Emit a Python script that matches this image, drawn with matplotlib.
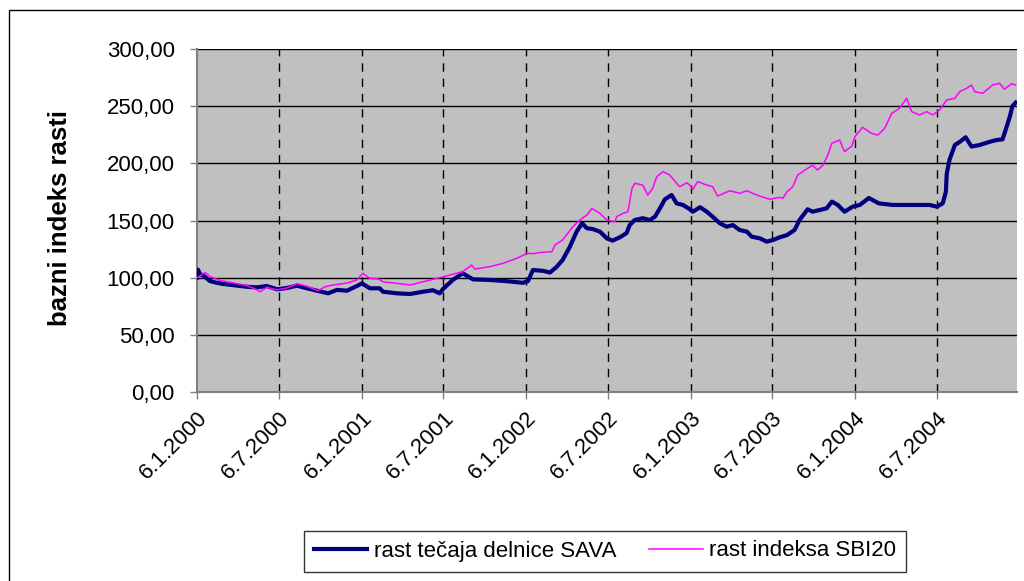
import datetime as dt
import matplotlib
matplotlib.use("Agg")
import matplotlib.pyplot as plt
from matplotlib.patches import Rectangle
from matplotlib.ticker import FuncFormatter, MultipleLocator

plt.rcParams["font.family"] = ["Liberation Sans", "DejaVu Sans"]

# Base date of the index (index = 100 on this day)
base_date = dt.date(2000, 1, 6)

# SAVA share price growth index: days after base date, index value
sava_days = [0, 2, 7, 16, 29, 44, 58, 80, 111, 133, 155, 178, 200, 222, 244, 266,
             284, 291, 311, 333, 355, 366, 384, 406, 413, 444, 473, 502, 524, 539,
             546, 568, 590, 613, 650, 688, 724, 735, 746, 768, 784, 799, 812, 828,
             843, 855, 866, 879, 895, 910, 923, 939, 954, 961, 972, 990, 1006, 1017,
             1028, 1039, 1054, 1065, 1079, 1094, 1101, 1117, 1132, 1145, 1161, 1176,
             1190, 1205, 1221, 1232, 1250, 1265, 1279, 1294, 1310, 1327, 1338, 1356,
             1367, 1383, 1398, 1410, 1423, 1438, 1456, 1472, 1492, 1514, 1545, 1583,
             1627, 1643, 1656, 1663, 1665, 1671, 1683, 1694, 1707, 1720, 1738, 1760,
             1776, 1789, 1798, 1805, 1811, 1818]
sava_values = [100.0, 107.0, 103.0, 101.3, 97.0, 95.5, 94.5, 93.5, 92.0, 91.5, 92.7,
               89.8, 91.0, 93.0, 90.7, 88.6, 87.0, 86.3, 89.3, 88.6, 92.7, 95.0, 90.7,
               90.7, 87.7, 86.3, 85.7, 87.7, 89.0, 86.3, 90.0, 98.0, 103.8, 98.5, 98.0,
               96.9, 95.5, 97.0, 106.7, 106.0, 104.5, 109.6, 115.5, 127.0, 140.2, 147.6,
               143.2, 142.5, 140.2, 134.4, 132.4, 135.3, 139.0, 146.0, 150.4, 152.0,
               150.4, 153.4, 160.6, 168.5, 172.3, 165.0, 163.6, 160.0, 157.7, 161.6,
               157.7, 153.4, 147.6, 144.6, 146.0, 141.7, 140.3, 135.8, 134.4, 131.5,
               132.9, 135.3, 137.2, 141.7, 150.4, 159.8, 157.7, 159.2, 160.6, 166.5,
               163.6, 157.7, 162.1, 163.6, 169.7, 165.0, 163.6, 163.6, 163.6, 162.1,
               165.0, 175.0, 191.0, 203.0, 216.0, 218.8, 222.8, 214.7, 216.0, 218.8,
               220.4, 221.0, 232.0, 240.8, 250.2, 253.1]

# SBI20 index growth: days after base date, index value
sbi_days = [0, 7, 18, 29, 44, 58, 80, 111, 133, 140, 155, 178, 200, 222, 244, 269,
            284, 302, 333, 355, 368, 384, 402, 413, 444, 473, 502, 533, 562, 590,
            610, 617, 650, 679, 710, 733, 746, 761, 788, 795, 812, 835, 850, 866,
            877, 895, 910, 928, 932, 946, 957, 966, 972, 990, 1001, 1012, 1021, 1035,
            1050, 1065, 1072, 1088, 1094, 1101, 1112, 1132, 1145, 1156, 1183, 1205,
            1221, 1243, 1272, 1294, 1301, 1310, 1323, 1334, 1356, 1367, 1378, 1390,
            1401, 1410, 1427, 1438, 1454, 1461, 1478, 1498, 1512, 1527, 1543, 1560,
            1576, 1587, 1605, 1620, 1634, 1649, 1665, 1683, 1694, 1709, 1720, 1727,
            1745, 1767, 1782, 1793, 1809, 1818]
sbi_values = [100.0, 101.6, 104.4, 101.0, 98.5, 97.0, 95.5, 93.0, 89.5, 87.7, 91.6,
              89.3, 91.0, 94.7, 92.4, 88.6, 92.0, 93.6, 95.3, 98.0, 103.8, 99.4, 99.0,
              96.4, 95.0, 93.6, 96.4, 99.4, 102.3, 105.3, 111.0, 107.5, 109.6, 112.5,
              116.9, 121.3, 121.0, 122.0, 122.7, 128.6, 133.0, 144.6, 150.4, 154.8,
              160.6, 156.2, 150.4, 148.9, 153.4, 156.2, 157.7, 178.1, 182.5, 181.0,
              172.3, 178.1, 188.4, 192.7, 189.8, 182.5, 179.6, 183.0, 181.0, 177.2,
              184.0, 181.0, 179.6, 171.4, 176.0, 173.8, 176.0, 172.3, 168.5, 170.3,
              169.4, 175.0, 179.6, 189.8, 195.6, 198.3, 194.2, 198.3, 207.3, 217.6,
              220.4, 210.2, 215.0, 223.3, 231.5, 226.2, 224.7, 230.6, 243.7, 248.1,
              256.9, 245.2, 242.3, 245.2, 242.3, 246.6, 255.4, 256.9, 262.7, 265.6,
              268.5, 262.7, 261.3, 268.5, 270.0, 264.9, 269.6, 268.5]

tick_dates = ["6.1.2000", "6.7.2000", "6.1.2001", "6.7.2001", "6.1.2002",
              "6.7.2002", "6.1.2003", "6.7.2003", "6.1.2004", "6.7.2004"]

y_label = "bazni indeks rasti"
sava_label = "rast tečaja delnice SAVA"
sbi_label = "rast indeksa SBI20"


def to_dates(days):
    return [base_date + dt.timedelta(days=d) for d in days]


def parse(s):
    d, m, y = (int(p) for p in s.split("."))
    return dt.date(y, m, d)


W, H = 1024, 581
fig = plt.figure(figsize=(W / 100, H / 100), dpi=100)
fig.patch.set_facecolor("white")

# chart area frame
fig.patches.append(Rectangle((9 / W, -0.5), 2.0, 1 - 10 / H + 0.5,
                             transform=fig.transFigure, fill=False,
                             edgecolor="black", linewidth=1.0))

ax = fig.add_axes([197 / W, 1 - 392 / H, 820 / W, 343 / H])
ax.set_facecolor("#C0C0C0")

ticks = [parse(s) for s in tick_dates]
ax.set_xlim(base_date, dt.date(2004, 12, 31))
ax.set_ylim(0, 300)

# horizontal grid
ax.yaxis.set_major_locator(MultipleLocator(50))
ax.grid(axis="y", color="black", linewidth=1.0)
# dashed vertical lines at the half-year ticks
for t in ticks[1:]:
    ax.axvline(t, color="black", linewidth=1.0, linestyle=(0, (6, 5)), zorder=1)

ax.plot(to_dates(sava_days), sava_values, color="#000080", linewidth=3.0,
        label=sava_label, zorder=3, solid_joinstyle="round")
ax.plot(to_dates(sbi_days), sbi_values, color="#FF00FF", linewidth=1.1,
        label=sbi_label, zorder=3)

ax.set_xticks(ticks)
ax.set_xticklabels(tick_dates, rotation=45, ha="right", va="top",
                   rotation_mode="anchor", fontsize=16)
ax.yaxis.set_major_formatter(FuncFormatter(lambda v, p: f"{v:.2f}".replace(".", ",")))
ax.tick_params(axis="y", labelsize=16, length=5, width=1, color="#808080", pad=11)
ax.tick_params(axis="x", length=5, width=1, color="#808080", pad=6)

for side in ("top", "right"):
    ax.spines[side].set_visible(False)
for side in ("left", "bottom"):
    ax.spines[side].set_color("#808080")
    ax.spines[side].set_linewidth(1.5)

fig.text(60 / W, 1 - 218 / H, y_label, rotation=90, ha="center", va="center",
         fontsize=18.5, fontweight="bold")

leg = fig.legend(loc="center", bbox_to_anchor=(605 / W, 1 - 551 / H), ncol=2,
                 fontsize=16, frameon=True, fancybox=False, edgecolor="black",
                 handlelength=2.4, columnspacing=1.5, handletextpad=0.3,
                 borderpad=0.45)
leg.get_frame().set_linewidth(1.0)

fig.savefig("out.png", dpi=100)
